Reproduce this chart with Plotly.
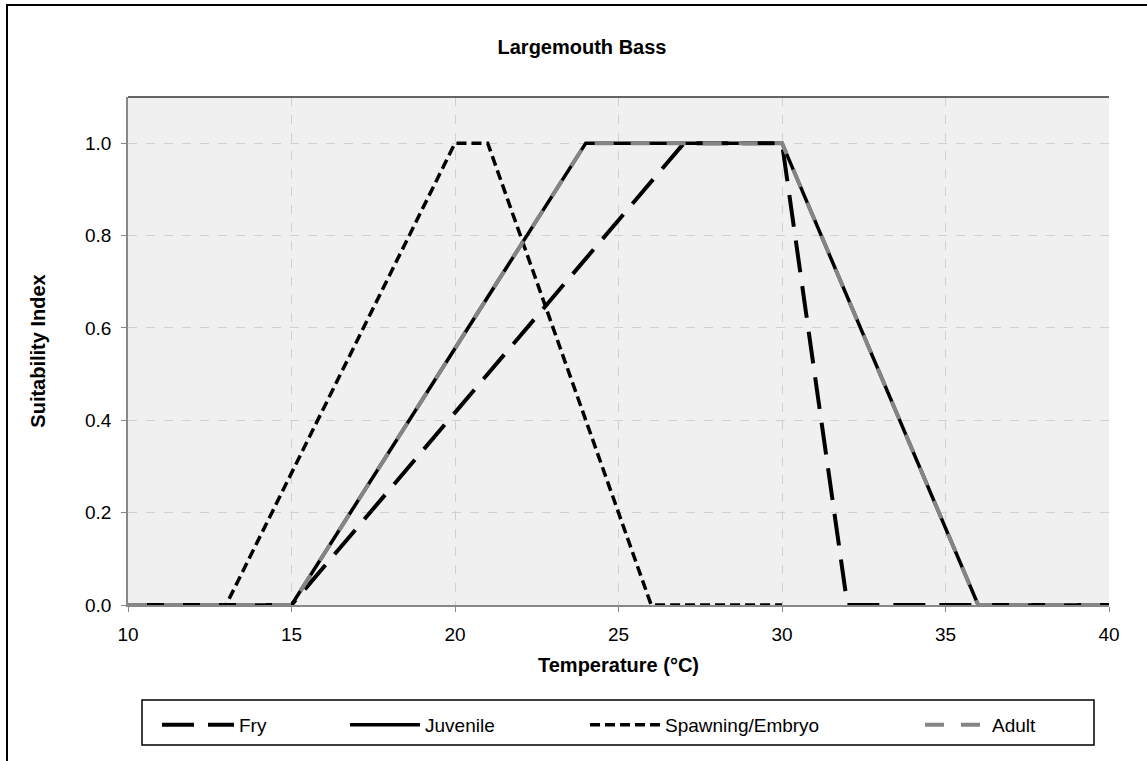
import plotly.graph_objects as go

fry_x = [10, 15, 27, 30, 32, 40]
fry_y = [0, 0, 1, 1, 0, 0]
juv_x = [10, 15, 24, 30, 36, 40]
juv_y = [0, 0, 1, 1, 0, 0]
spawn_x = [10, 13, 20, 21, 26, 30]
spawn_y = [0, 0, 1, 1, 0, 0]
adult_x = [10, 15, 24, 30, 36, 40]
adult_y = [0, 0, 1, 1, 0, 0]

W, H = 1147, 761
L, R, T, B = 128, 38, 97, 156
pw, ph = W - L - R, H - T - B

def px(x):
    return (x - L) / pw

def py(y):
    return (H - B - y) / ph

fig = go.Figure()
fig.add_trace(go.Scatter(x=fry_x, y=fry_y, mode="lines", name="Fry", legend="legend",
                         line=dict(color="black", width=4, dash="32px,14px")))
fig.add_trace(go.Scatter(x=juv_x, y=juv_y, mode="lines", name="Juvenile", legend="legend2",
                         line=dict(color="black", width=3.5)))
fig.add_trace(go.Scatter(x=spawn_x, y=spawn_y, mode="lines", name="Spawning/Embryo", legend="legend3",
                         line=dict(color="black", width=3.5, dash="10px,5px")))
fig.add_trace(go.Scatter(x=adult_x, y=adult_y, mode="lines", name="Adult", legend="legend4",
                         line=dict(color="#858585", width=4, dash="19px,17px")))

font = dict(family="Liberation Sans, Arial", size=19, color="black")

def leg(xpix, iw):
    return dict(orientation="h", x=px(xpix), xanchor="left", y=py(725), yanchor="middle",
                bgcolor="rgba(0,0,0,0)", font=dict(size=19), itemwidth=iw)

fig.update_layout(
    width=W, height=H,
    margin=dict(l=L, r=R, t=T, b=B),
    paper_bgcolor="white",
    plot_bgcolor="#f0f0f0",
    font=font,
    title=dict(text="<b>Largemouth Bass</b>", x=582 / W, xanchor="center",
               y=1 - 47 / H, yanchor="middle", font=dict(size=20)),
    xaxis=dict(range=[10, 40], tickvals=[10, 15, 20, 25, 30, 35, 40],
               showgrid=True, gridcolor="#d0d0d0", griddash="dash", gridwidth=1,
               showline=True, linecolor="#888888", linewidth=1.5,
               ticks="outside", ticklen=5, tickcolor="#888888",
               zeroline=False, tickfont=dict(size=19), ticklabelstandoff=6,
               title=dict(text="<b>Temperature (°C)</b>", standoff=14, font=dict(size=20))),
    yaxis=dict(range=[0, 1.1], tickvals=[0, 0.2, 0.4, 0.6, 0.8, 1.0], tickformat=".1f",
               showgrid=True, gridcolor="#d0d0d0", griddash="dash", gridwidth=1,
               showline=True, linecolor="#888888", linewidth=1.5,
               ticks="outside", ticklen=5, tickcolor="#888888",
               zeroline=False, tickfont=dict(size=19), ticklabelstandoff=6,
               title=dict(text="<b>Suitability Index</b>", standoff=34, font=dict(size=20))),
    showlegend=True,
    legend=leg(157, 72),
    legend2=leg(345, 70),
    legend3=leg(585, 70),
    legend4=leg(920, 62),
    shapes=[
        dict(type="line", xref="paper", yref="paper", x0=0, x1=1, y0=1, y1=1,
             line=dict(color="#333333", width=1.5)),
        dict(type="rect", xref="paper", yref="paper", x0=px(142), x1=px(1094),
             y0=py(745), y1=py(700), line=dict(color="black", width=1.5)),
        dict(type="rect", xref="paper", yref="paper", x0=px(7), x1=px(1152),
             y0=py(770), y1=py(5), line=dict(color="black", width=2)),
    ],
)

fig.write_html("out.html")
